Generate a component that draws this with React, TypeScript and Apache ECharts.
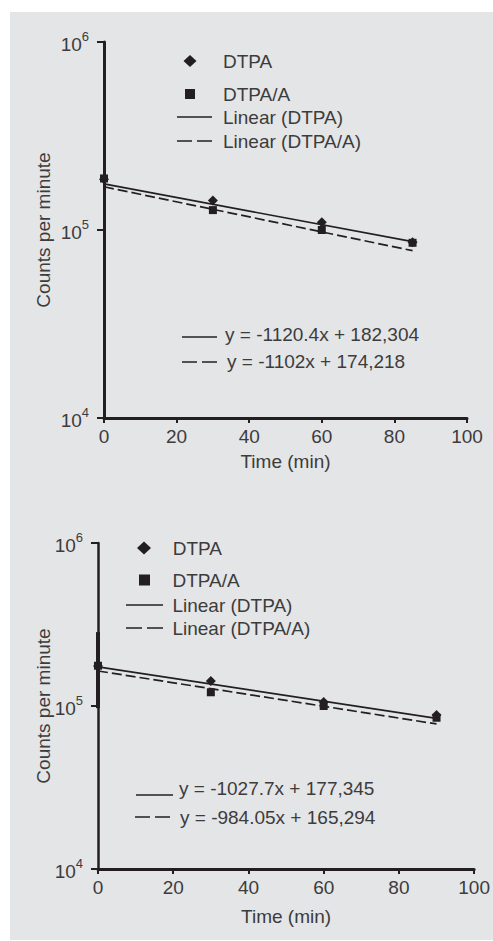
import React, { useEffect, useRef } from "react";
import * as echarts from "echarts";

// ---------- data ----------
const xTickMin = 0;
const xTickMax = 100;
const xTickStep = 20;
const yMin = 1e4;
const yMax = 1e6;

// Top panel
const time1 = [0, 30, 60, 85];
const dtpa1 = [186000, 143600, 110000, 86000];
const dtpaA1 = [188000, 127600, 100000, 85500];
const trendTime1 = [0, 85];
const trendDtpa1 = [175800, 86700];
const trendDtpaA1 = [169800, 77600];
const eqTop = ["y = -1120.4x + 182,304", "y = -1102x + 174,218"];

// Bottom panel
const time2 = [0, 30, 60, 90];
const dtpa2 = [176000, 142300, 106000, 88000];
const dtpaA2 = [176600, 121400, 100000, 84700];
const trendTime2 = [0, 90];
const trendDtpa2 = [174000, 84000];
const trendDtpaA2 = [164000, 77600];
const errTime2 = [0, 0];
const errBar2 = [97000, 284000];
const eqBottom = ["y = -1027.7x + 177,345", "y = -984.05x + 165,294"];

const names = ["DTPA", "DTPA/A", "Linear (DTPA)", "Linear (DTPA/A)"];
const yTitle = "Counts per minute";
const xTitle = "Time (min)";

// ---------- styles ----------
const black = "#231f20";
const textColor = "#3c3c3c";
const font = "'Liberation Sans', Arial, Helvetica, sans-serif";
const fs = 19;

const solidIcon = "rect";
const dashIconTop = "path://M0 0L15 0L15 1.5L0 1.5ZM20 0L35 0L35 1.5L20 1.5Z";
const dashIconBottom = "path://M0 0L16 0L16 1.5L0 1.5ZM21 0L37 0L37 1.5L21 1.5Z";

const zip = (xs: number[], ys: number[]) => xs.map((x, i) => [x, ys[i]]);

function yAxis(gi: number, nameGap: number, lw: number) {
  return {
    type: "log",
    logBase: 10,
    min: yMin,
    max: yMax,
    gridIndex: gi,
    name: yTitle,
    nameLocation: "middle",
    nameGap,
    nameMoveOverlap: false,
    nameTextStyle: { fontSize: fs, color: textColor, fontFamily: font },
    axisLine: { show: true, lineStyle: { color: black, width: lw } },
    axisTick: { show: true, length: 7, lineStyle: { color: black, width: 2 } },
    minorTick: { show: false },
    splitLine: { show: false },
    minorSplitLine: { show: false },
    axisLabel: {
      margin: 15,
      color: textColor,
      fontFamily: font,
      formatter: (v: number) => `{b|10}{s|${Math.round(Math.log10(v))}}`,
      rich: {
        b: { fontSize: fs, lineHeight: 24, verticalAlign: "bottom", color: textColor, fontFamily: font },
        s: { fontSize: 13, lineHeight: 24, verticalAlign: "top", color: textColor, fontFamily: font },
      },
    },
  };
}

function xAxis(gi: number, nameGap: number) {
  return {
    type: "value",
    min: xTickMin,
    max: xTickMax,
    interval: xTickStep,
    gridIndex: gi,
    name: xTitle,
    nameLocation: "middle",
    nameGap,
    nameMoveOverlap: false,
    nameTextStyle: { fontSize: fs, color: textColor, fontFamily: font },
    axisLine: { show: true, onZero: false, lineStyle: { color: black, width: 3 } },
    axisTick: { show: true, length: 5, lineStyle: { color: black, width: 2 } },
    splitLine: { show: false },
    axisLabel: { margin: 9, fontSize: fs, color: textColor, fontFamily: font },
  };
}

function legendRow(
  name: string,
  left: number,
  centerY: number,
  w: number,
  h: number,
  pad: number,
  icon: string
) {
  return {
    data: [{ name, icon, itemStyle: { color: black, opacity: 1, borderWidth: 0 } }],
    left,
    top: centerY - 11,
    padding: 0,
    itemWidth: w,
    itemHeight: h,
    selectedMode: false,
    itemStyle: { color: black, borderWidth: 0, opacity: 1 },
    textStyle: { fontSize: fs, lineHeight: 22, color: textColor, fontFamily: font, padding: [0, 0, 0, pad] },
  };
}

function eqGraphic(x1: number, x2: number, ly: number, tx: number, ty: number, text: string, dashed: boolean) {
  return [
    {
      type: "line",
      shape: { x1, y1: ly, x2, y2: ly },
      style: { stroke: black, lineWidth: 1.4, lineDash: dashed ? [15, 5] : null },
    },
    {
      type: "text",
      x: tx,
      y: ty,
      style: {
        text,
        fontSize: fs,
        fontFamily: font,
        fill: textColor,
        verticalAlign: "middle",
        align: "left",
      },
    },
  ];
}

export default function App() {
  const ref = useRef<HTMLDivElement>(null);

  useEffect(() => {
    if (!ref.current) return;
    const chart = echarts.init(ref.current, undefined, { renderer: "svg" });

    const scatter = (name: string, data: number[][], symbol: string, size: number, gi: number) => ({
      name,
      type: "scatter",
      xAxisIndex: gi,
      yAxisIndex: gi,
      data,
      symbol,
      symbolSize: size,
      itemStyle: { color: black, opacity: 1 },
      z: 5,
    });
    const trend = (name: string, data: number[][], dashed: boolean, gi: number) => ({
      name,
      type: "line",
      xAxisIndex: gi,
      yAxisIndex: gi,
      data,
      symbol: "none",
      lineStyle: { color: black, width: 1.7, type: dashed ? [10, 4] : "solid" },
      itemStyle: { color: black },
      z: 3,
    });

    const option: any = {
      animation: false,
      backgroundColor: "#ffffff",
      textStyle: { fontFamily: font },
      grid: [
        { left: 104, top: 42, width: 363, height: 376 },
        { left: 98, top: 543, width: 378, height: 326 },
      ],
      xAxis: [xAxis(0, 34), xAxis(1, 38)],
      yAxis: [yAxis(0, 51, 3), yAxis(1, 45, 2.5)],
      legend: [
        legendRow(names[0], 183.5, 61, 13, 12, 21.5, "diamond"),
        legendRow(names[1], 185, 94, 10, 10, 23, "rect"),
        legendRow(names[2], 177, 117, 35, 1.5, 6, solidIcon),
        legendRow(names[3], 177, 141, 35, 1.5, 6, dashIconTop),
        legendRow(names[0], 137, 548, 14, 13, 16.7, "diamond"),
        legendRow(names[1], 139, 580, 11, 11, 17.5, "rect"),
        legendRow(names[2], 126, 605, 37, 1.5, 4.4, solidIcon),
        legendRow(names[3], 126, 628, 37, 1.5, 4.4, dashIconBottom),
      ],
      graphic: [
        {
          type: "rect",
          shape: { x: 10, y: 12, width: 483, height: 928 },
          style: { fill: "#e4e5e7" },
          z: -10,
          silent: true,
        },
        ...eqGraphic(182, 217, 337, 225, 334, eqTop[0], false),
        ...eqGraphic(182, 219, 362, 227, 361, eqTop[1], true),
        ...eqGraphic(136, 173, 795, 179, 788, eqBottom[0], false),
        ...eqGraphic(135, 173, 817, 180, 817, eqBottom[1], true),
      ],
      series: [
        trend(names[2], zip(trendTime1, trendDtpa1), false, 0),
        trend(names[3], zip(trendTime1, trendDtpaA1), true, 0),
        scatter(names[0], zip(time1, dtpa1), "diamond", 10, 0),
        scatter(names[1], zip(time1, dtpaA1), "rect", 8, 0),
        {
          name: "error",
          type: "line",
          xAxisIndex: 1,
          yAxisIndex: 1,
          data: zip(errTime2, errBar2),
          symbol: "none",
          lineStyle: { color: black, width: 4 },
          z: 3,
        },
        trend(names[2], zip(trendTime2, trendDtpa2), false, 1),
        trend(names[3], zip(trendTime2, trendDtpaA2), true, 1),
        scatter(names[0], zip(time2, dtpa2), "diamond", 10, 1),
        scatter(names[1], zip(time2, dtpaA2), "rect", 8, 1),
      ],
    };

    chart.setOption(option);
    return () => chart.dispose();
  }, []);

  return (
    <div
      ref={ref}
      style={{ position: "fixed", left: 0, top: 0, width: 493, height: 941 }}
    />
  );
}
